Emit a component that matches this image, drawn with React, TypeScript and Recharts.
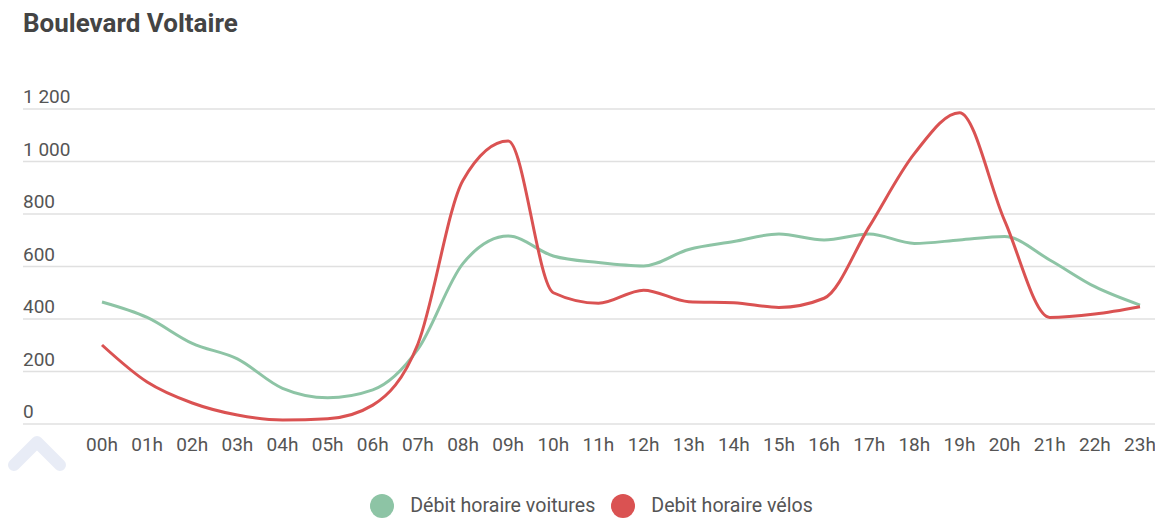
import React from 'react';
import { LineChart, Line, XAxis, YAxis, CartesianGrid } from 'recharts';

const title = 'Boulevard Voltaire';
const hours = ['00h','01h','02h','03h','04h','05h','06h','07h','08h','09h','10h','11h','12h','13h','14h','15h','16h','17h','18h','19h','20h','21h','22h','23h'];
const voitures = [465, 406, 307, 248, 136, 100, 130, 285, 612, 716, 640, 615, 602, 665, 695, 724, 701, 724, 688, 701, 714, 625, 523, 453];
const velos = [301, 160, 80, 34, 15, 20, 72, 305, 929, 1078, 500, 460, 510, 466, 462, 444, 479, 752, 1030, 1186, 775, 406, 419, 447];
const yTicks = [0, 200, 400, 600, 800, 1000, 1200];
const seriesNames = ['Débit horaire voitures', 'Debit horaire vélos'];
const seriesColors = ['#8dc4a5', '#da5252'];

const data = hours.map((h, i) => ({ hour: h, voitures: voitures[i], velos: velos[i] }));

const FONT = 'Roboto, "Noto Sans", sans-serif';

const fmt = (v: number) => String(v).replace(/\B(?=(\d{3})+(?!\d))/g, ' ');

const YTick = (props: any) => {
  const { x, y, payload } = props;
  return (
    <text x={x} y={y - 6} textAnchor="start" fill="#555" fontSize={19} fontFamily={FONT}>
      {fmt(payload.value)}
    </text>
  );
};

const XTick = (props: any) => {
  const { x, y, payload } = props;
  return (
    <text x={x} y={y + 27} textAnchor="middle" fill="#555" fontSize={19} fontFamily={FONT}>
      {payload.value}
    </text>
  );
};

export default function App() {
  return (
    <div style={{ position: 'relative', width: 1155, height: 510, fontFamily: FONT }}>
      <div
        style={{
          position: 'absolute',
          left: 15,
          top: 3,
          fontSize: 26,
          lineHeight: '25px',
          fontWeight: 700,
          color: '#444',
          whiteSpace: 'nowrap',
        }}
      >
        {title}
      </div>
      <div style={{ position: 'absolute', left: 0, top: 0 }}>
        <LineChart width={1155} height={450} data={data} margin={{ top: 101, right: 3, left: 14, bottom: 4 }}>
          <CartesianGrid vertical={false} stroke="#e0e0e0" strokeWidth={1.5} />
          <XAxis
            dataKey="hour"
            axisLine={false}
            tickLine={false}
            tickSize={0}
            tickMargin={0}
            height={30}
            interval={0}
            padding={{ left: 79, right: 20 }}
            tick={<XTick />}
          />
          <YAxis
            width={1}
            domain={[0, 1200]}
            ticks={yTicks}
            axisLine={false}
            tickLine={false}
            tickSize={0}
            tickMargin={0}
            interval={0}
            tick={<YTick />}
          />
          <Line
            type="monotone"
            dataKey="voitures"
            name={seriesNames[0]}
            stroke={seriesColors[0]}
            strokeWidth={3}
            dot={false}
            activeDot={false}
            isAnimationActive={false}
          />
          <Line
            type="monotone"
            dataKey="velos"
            name={seriesNames[1]}
            stroke={seriesColors[1]}
            strokeWidth={3}
            dot={false}
            activeDot={false}
            isAnimationActive={false}
          />
        </LineChart>
      </div>
      <div
        style={{
          position: 'absolute',
          left: 15,
          width: 1137,
          top: 486,
          height: 24,
          display: 'flex',
          justifyContent: 'center',
          alignItems: 'center',
          gap: 16,
        }}
      >
        {seriesNames.map((n, i) => (
          <div key={n} style={{ display: 'flex', alignItems: 'center' }}>
            <span
              style={{
                display: 'inline-block',
                width: 24,
                height: 24,
                borderRadius: '50%',
                background: seriesColors[i],
                marginRight: 16,
              }}
            />
            <span style={{ fontSize: 19.6, lineHeight: '24px', color: '#555' }}>{n}</span>
          </div>
        ))}
      </div>
      <svg
        width={70}
        height={50}
        style={{ position: 'absolute', left: -8, top: 420 }}
      >
        <polyline
          points="14,37 37,14 60,37"
          fill="none"
          stroke="#e8ecf6"
          strokeWidth={12}
          strokeLinecap="round"
          strokeLinejoin="round"
        />
      </svg>
    </div>
  );
}
